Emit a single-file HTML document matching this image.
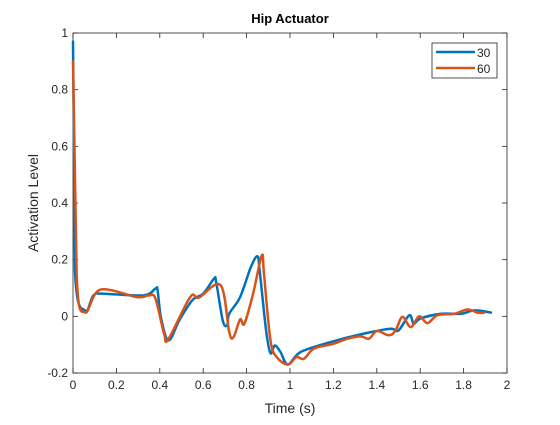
<!DOCTYPE html>
<html><head><meta charset="utf-8"><style>
body{margin:0;background:#fff}
svg text{font-family:"Liberation Sans",sans-serif;fill:#262626}
</style></head><body>
<svg width="560" height="420">
<rect x="0" y="0" width="560" height="420" fill="#fff"/>
<g id="axes"></g>
<g id="series"></g>
<text x="290" y="23" text-anchor="middle" font-size="13" font-weight="bold" style="fill:#000">Hip Actuator</text>
<text x="290" y="413" text-anchor="middle" font-size="14">Time (s)</text>
<text transform="translate(38,203) rotate(-90)" text-anchor="middle" font-size="14">Activation Level</text>
<g>
<rect x="432" y="43" width="65" height="35" fill="#fff" stroke="#262626" stroke-width="0.8"/>
<line x1="436" y1="52" x2="475" y2="52" stroke="#0072BD" stroke-width="2.5"/>
<text x="477" y="57" font-size="12">30</text>
<line x1="436" y1="68" x2="475" y2="68" stroke="#D95319" stroke-width="2.5"/>
<text x="477" y="73" font-size="12">60</text>
</g>
</svg>
<script>
const xTicks=[0,0.2,0.4,0.6,0.8,1,1.2,1.4,1.6,1.8,2];
const xTickLabels=["0","0.2","0.4","0.6","0.8","1","1.2","1.4","1.6","1.8","2"];
const yTicks=[-0.2,0,0.2,0.4,0.6,0.8,1];
const yTickLabels=["-0.2","0","0.2","0.4","0.6","0.8","1"];
const t30=[0,0.009,0.056,0.094,0.14,0.325,0.38,0.39,0.405,0.44,0.49,0.55,0.60,0.65,0.66,0.69,0.71,0.72,0.77,0.82,0.85,0.86,0.89,0.91,0.93,0.956,0.99,1.049,1.187,1.34,1.463,1.50,1.55,1.57,1.60,1.695,1.787,1.85,1.926];
const v30=[0.97,0.16,0.02,0.074,0.080,0.074,0.098,0.092,-0.003,-0.085,-0.014,0.057,0.080,0.133,0.12,-0.014,-0.032,0.009,0.068,0.174,0.212,0.163,-0.05,-0.13,-0.103,-0.126,-0.17,-0.126,-0.091,-0.061,-0.044,-0.05,0.004,-0.026,-0.008,0.009,0.009,0.021,0.013];
const t60=[0,0.017,0.056,0.125,0.295,0.35,0.38,0.42,0.44,0.54,0.58,0.68,0.72,0.74,0.77,0.79,0.83,0.87,0.88,0.91,0.94,0.99,1.03,1.064,1.11,1.20,1.265,1.325,1.364,1.40,1.456,1.486,1.518,1.556,1.595,1.633,1.68,1.757,1.818,1.864,1.895];
const v60=[0.9,0.139,0.014,0.094,0.068,0.074,0.062,-0.062,-0.08,0.068,0.066,0.11,-0.055,-0.073,-0.011,-0.026,0.080,0.215,0.15,-0.085,-0.145,-0.17,-0.144,-0.15,-0.114,-0.097,-0.079,-0.071,-0.079,-0.052,-0.067,-0.050,-0.002,-0.038,0,-0.024,0.004,0.009,0.024,0.013,0.013];
const L=73,R=507,T=33,B=373;
const X=v=>L+(v-0)/(2-0)*(R-L);
const Y=v=>B-(v-(-0.2))/(1.2)*(B-T);
const NS="http://www.w3.org/2000/svg";
const ax=document.getElementById('axes');
function mk(tag,attrs,parent){const e=document.createElementNS(NS,tag);for(const k in attrs)e.setAttribute(k,attrs[k]);parent.appendChild(e);return e;}
const box=mk('rect',{x:L,y:T,width:R-L,height:B-T,fill:'none',stroke:'#262626','stroke-width':0.8},ax);


xTicks.forEach((v,i)=>{
  mk('line',{x1:X(v),x2:X(v),y1:B,y2:B-5,stroke:'#262626','stroke-width':0.8},ax);
  mk('line',{x1:X(v),x2:X(v),y1:T,y2:T+5,stroke:'#262626','stroke-width':0.8},ax);
  const t=mk('text',{x:X(v),y:B+16,'text-anchor':'middle','font-size':12},ax);
  t.textContent=xTickLabels[i];
  
  
});
yTicks.forEach((v,i)=>{
  mk('line',{x1:L,x2:L+5,y1:Y(v),y2:Y(v),stroke:'#262626','stroke-width':0.8},ax);
  mk('line',{x1:R,x2:R-5,y1:Y(v),y2:Y(v),stroke:'#262626','stroke-width':0.8},ax);
  const t=mk('text',{x:L-5,y:Y(v)+4,'text-anchor':'end','font-size':12},ax);
  t.textContent=yTickLabels[i];
  
  
});
const sg=document.getElementById('series');
function line(ts,vs,color,name){
  const P=ts.map((t,i)=>[X(t),Y(vs[i])]);
  let d='M'+P[0][0].toFixed(1)+','+P[0][1].toFixed(1);
  for(let i=0;i<P.length-1;i++){
    const p0=P[Math.max(0,i-1)],p1=P[i],p2=P[i+1],p3=P[Math.min(P.length-1,i+2)];
    const k=i===0?0:1/6, k2=(i+1===P.length-1||i===0)?0:1/6;
    const c1=[p1[0]+(p2[0]-p0[0])*k,p1[1]+(p2[1]-p0[1])*k];
    const c2=[p2[0]-(p3[0]-p1[0])*k2,p2[1]-(p3[1]-p1[1])*k2];
    d+=' C'+c1.map(n=>n.toFixed(1)).join(',')+' '+c2.map(n=>n.toFixed(1)).join(',')+' '+p2[0].toFixed(1)+','+p2[1].toFixed(1);
  }
  const p=mk('path',{d:d,fill:'none',stroke:color,'stroke-width':2.5,'stroke-linejoin':'round','stroke-linecap':'round'},sg);
  
  
}
line(t30,v30,'#0072BD','series-30');
line(t60,v60,'#D95319','series-60');
</script>
</body></html>
